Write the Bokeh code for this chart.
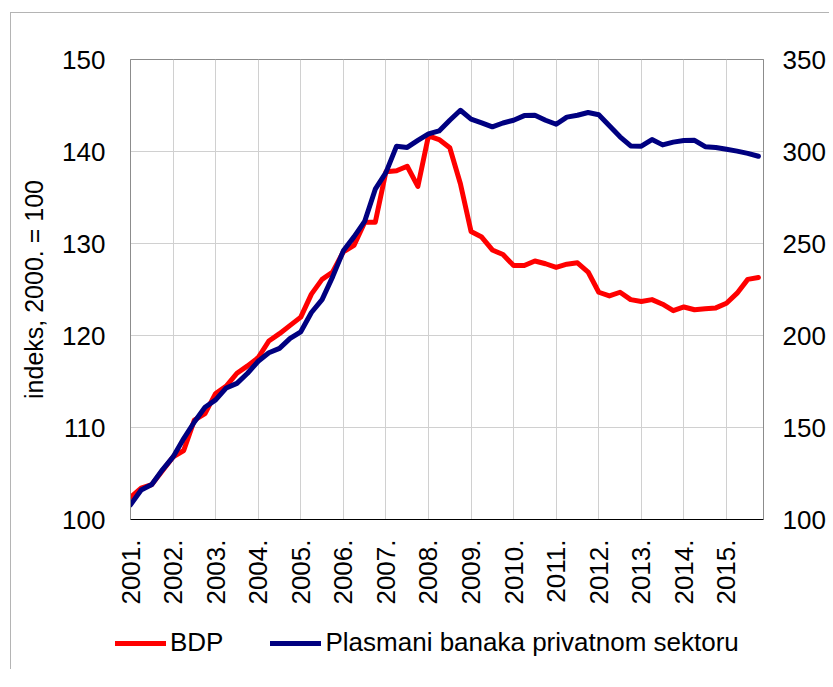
from bokeh.plotting import figure
from bokeh.layouts import column
from bokeh.models import Range1d, LinearAxis, FixedTicker, Legend, LegendItem
from bokeh.embed import file_html
from bokeh.resources import INLINE

# ---- data (quarterly, 2001Q1 - 2015Q4) ----
years = list(range(2001, 2016))
year_labels = [f"{y}." for y in years]
left_ticks = [100, 110, 120, 130, 140, 150]
right_ticks = [100, 150, 200, 250, 300, 350]
series_names = ["BDP", "Plasmani banaka privatnom sektoru"]

bdp = [102.4, 103.4, 103.8, 105.3, 106.8, 107.5, 110.8, 111.5,
       113.7, 114.5, 115.9, 116.7, 117.6, 119.4, 120.2, 121.1,
       122.0, 124.5, 126.1, 126.9, 129.1, 129.8, 132.3, 132.3,
       137.8, 137.9, 138.4, 136.2, 141.7, 141.3, 140.4, 136.5,
       131.3, 130.7, 129.3, 128.8, 127.6, 127.6, 128.1, 127.8,
       127.4, 127.75, 127.9, 126.9, 124.7, 124.3, 124.7, 123.9,
       123.7, 123.9, 123.4, 122.7, 123.1, 122.8, 122.9, 123.0,
       123.5, 124.6, 126.1, 126.3]

plasmani = [108, 116, 119, 127, 134, 144, 153, 161,
            165, 171.5, 174, 179.5, 186, 190.6, 193, 198.4,
            202, 212.5, 219.5, 232, 246, 253.6, 262, 279.5,
            288.5, 302.9, 302.2, 306, 309.6, 311.2, 317, 322.4,
            317.6, 315.6, 313.4, 315.5, 317, 319.5, 319.7, 317,
            314.8, 318.7, 319.7, 321.2, 320, 314, 308, 303,
            302.9, 306.5, 303.6, 305.1, 306, 306.1, 302.6, 302.2,
            301.2, 300.2, 299, 297.4]

x = [years[0] + i / 4 for i in range(len(bdp))]

FONT = "Liberation Sans"
FS = "26px"
RED = "#ff0000"
NAVY = "#000080"

p = figure(frame_width=633, frame_height=460, output_backend="svg", toolbar_location=None,
           x_range=Range1d(2001, 2015.87), y_range=Range1d(100, 150),
           min_border_left=119, min_border_right=66, min_border_top=46,
           min_border_bottom=90)
p.extra_y_ranges = {"right": Range1d(100, 350)}

p.outline_line_color = "#8c8c8c"
p.outline_line_width = 1

# grid
p.xgrid.ticker = FixedTicker(ticks=years)
p.ygrid.ticker = FixedTicker(ticks=left_ticks)
p.xgrid.grid_line_color = "#d0d0d0"
p.ygrid.grid_line_color = "#d0d0d0"
p.xgrid.grid_line_width = 1
p.ygrid.grid_line_width = 1

# x axis
xa = p.xaxis[0]
xa.ticker = FixedTicker(ticks=years)
xa.major_label_overrides = {y: lab for y, lab in zip(years, year_labels)}
xa.major_label_orientation = 3.14159265 / 2
xa.major_tick_out = 0
xa.major_tick_in = 0
xa.minor_tick_out = 0
xa.minor_tick_in = 0
xa.major_label_standoff = 20
xa.axis_line_color = "black"
xa.major_label_text_font = FONT
xa.major_label_text_font_size = FS
xa.major_label_text_color = "black"

# left y axis
ya = p.yaxis[0]
ya.ticker = FixedTicker(ticks=left_ticks)
ya.major_tick_out = 0
ya.major_tick_in = 0
ya.minor_tick_out = 0
ya.minor_tick_in = 0
ya.major_label_standoff = 25
ya.axis_line_color = "#8c8c8c"
ya.major_label_text_font = FONT
ya.major_label_text_font_size = FS
ya.major_label_text_color = "black"
ya.axis_label = "indeks, 2000. = 100"
ya.axis_label_text_font = FONT
ya.axis_label_text_font_size = "25px"
ya.axis_label_text_font_style = "normal"
ya.axis_label_text_color = "black"
ya.axis_label_standoff = 11

# right y axis
ra = LinearAxis(y_range_name="right", ticker=FixedTicker(ticks=right_ticks))
ra.major_tick_out = 0
ra.major_tick_in = 0
ra.minor_tick_out = 0
ra.minor_tick_in = 0
ra.major_label_standoff = 19
ra.axis_line_color = "#8c8c8c"
ra.major_label_text_font = FONT
ra.major_label_text_font_size = FS
ra.major_label_text_color = "black"
p.add_layout(ra, "right")

p.line(x, bdp, line_color=RED, line_width=5, line_join="round", line_cap="round")
p.line(x, plasmani, y_range_name="right", line_color=NAVY, line_width=5,
       line_join="round", line_cap="round")

# ---- legend strip below the chart ----
lg = figure(width=818, height=60, output_backend="svg", toolbar_location=None,
            x_axis_type=None, y_axis_type=None, min_border=0,
            x_range=Range1d(0, 1), y_range=Range1d(0, 1))
lg.grid.visible = False
lg.outline_line_color = None
# legend proxies: the same series, outside this strip's visible ranges
k1 = lg.line(x, bdp, line_color=RED, line_width=5, line_cap="round")
k2 = lg.line(x, plasmani, line_color=NAVY, line_width=5, line_cap="round")
legend = Legend(items=[LegendItem(label=series_names[0], renderers=[k1]),
                       LegendItem(label=series_names[1], renderers=[k2])],
                orientation="horizontal", location=(104, 11),
                glyph_width=51, glyph_height=20, label_standoff=4, spacing=47,
                padding=0, margin=0, border_line_color=None, background_fill_alpha=0,
                label_text_font=FONT, label_text_font_size=FS, label_text_color="black")
lg.add_layout(legend, "center")

for fig in (p, lg):
    try:
        fig.frame_align = False
    except Exception:
        pass

layout = column(p, lg, spacing=0)
layout.styles = {"border-top": "1px solid #b4b4b4", "border-left": "1px solid #b4b4b4",
                 "margin-left": "10px", "margin-top": "12px"}

open("out.html", "w").write(file_html(layout, INLINE))
